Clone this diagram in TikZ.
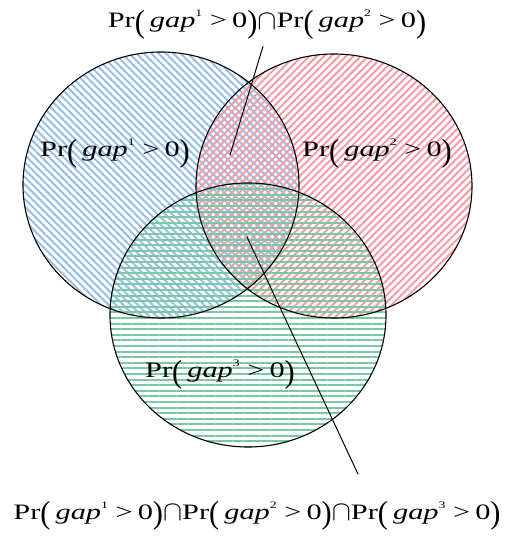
\documentclass[tikz,border=0pt]{standalone}
\usepackage{fontspec}
\setmainfont{Liberation Serif}
\usepackage{graphicx}
\usetikzlibrary{patterns.meta}

\definecolor{gapblue}{RGB}{150,190,232}
\definecolor{gapred}{RGB}{244,155,165}
\definecolor{gapgreen}{RGB}{120,200,160}

\newcommand{\bigpar}[1]{\raisebox{-0.2em}{\scalebox{1}[1.45]{#1}}}
\newcommand{\prgap}[1]{Pr\bigpar{(}\,\textit{gap}\raisebox{0.5em}{\fontsize{10}{10}\selectfont #1}~>\,0\bigpar{)}}
\newcommand{\capsym}{\raisebox{-0.05em}{\scalebox{1}[1.35]{$\cap$}}}

\begin{document}
\begin{tikzpicture}[x=1pt,y=1pt,line cap=round,line join=round,
  every node/.style={inner sep=1pt,anchor=base,font=\fontsize{22}{26}\selectfont,xscale=1.38,transform shape},
  hatchone/.style={pattern={Lines[angle=-45,distance=5.2pt,line width=2pt]},pattern color=gapblue},
  hatchtwo/.style={pattern={Lines[angle=45,distance=5.2pt,line width=2pt]},pattern color=gapred},
  hatchthree/.style={pattern={Lines[angle=0,distance=5.6pt,line width=2pt]},pattern color=gapgreen},
  rim/.style={draw=black,line width=1.1pt}]
  \useasboundingbox (0,0) rectangle (512,542);
  % 三个事件的区域
  \fill[hatchone] (161,357) ellipse (138 and 133);
  \fill[hatchtwo] (334,356) ellipse (138 and 132);
  \fill[hatchthree] (248,227) ellipse (138 and 132);
  \draw[rim] (161,357) ellipse (138 and 133);
  \draw[rim] (334,356) ellipse (138 and 132);
  \draw[rim] (248,227) ellipse (138 and 132);
  % 各区域的文字
  \node (gapone) at (115,385) {\prgap{1}};
  \node (gaptwo) at (377,385) {\prgap{2}};
  \node (gapthree) at (220,164) {\prgap{3}};
  % 交集的文字与指引线
  \node (cuttwo) at (267,514) {\prgap{1}\capsym\prgap{2}};
  \node (cutthree) at (257,23) {\prgap{1}\capsym\prgap{2}\capsym\prgap{3}};
  \coordinate (intwo) at (230,387);
  \coordinate (inthree) at (247,305);
  \draw[line width=1pt] (intwo) -- ([xshift=-4pt,yshift=-6pt]cuttwo.south);
  \draw[line width=1pt] (inthree) -- ([xshift=101pt,yshift=26pt]cutthree.north);
\end{tikzpicture}
\end{document}
